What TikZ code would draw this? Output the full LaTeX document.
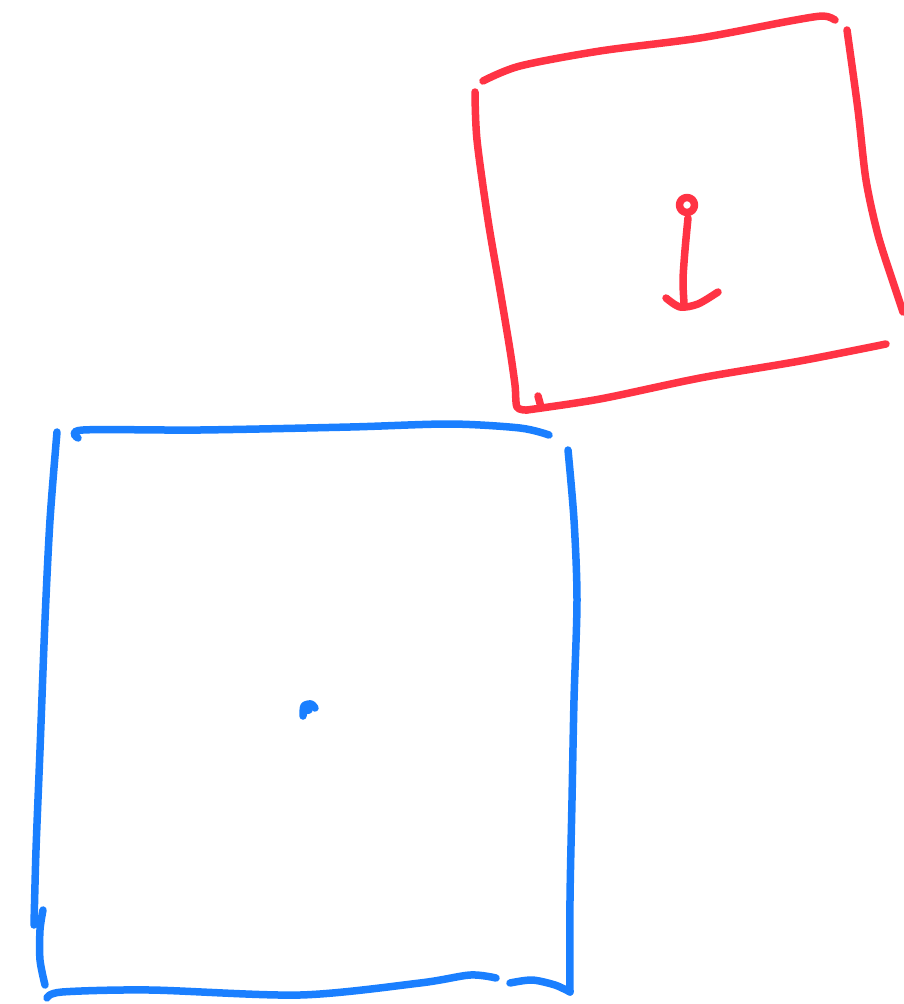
\documentclass[tikz,border=0pt]{standalone}
\usepackage{tikz}
\usetikzlibrary{calc}
\definecolor{sketchred}{RGB}{255,51,68}
\definecolor{sketchblue}{RGB}{26,127,255}
\tikzset{
	pen/.style = {line width=7.5pt, line cap=round, line join=round}, % all strokes share the marker width
	redstroke/.style = {pen, draw=sketchred},
	bluestroke/.style = {pen, draw=sketchblue}
}
\begin{document}
\begin{tikzpicture}[x=1pt, y=-1pt]
	\useasboundingbox (0,0) rectangle (903,1004);
	% red square (upper right)
	\draw[redstroke] plot[smooth] coordinates {(483,81) (520,66) (600,51) (700,38) (790,21) (823,16) (835,20)};
	\draw[redstroke] plot[smooth] coordinates {(847,30) (858,110) (866,180) (878,235) (894,285) (903,312)};
	\draw[redstroke] plot[smooth] coordinates {(475,92) (477,140) (488,220) (500,290) (510,350) (515,385) (517,407) (527,410)};
	\draw[redstroke] plot[smooth] coordinates {(527,410) (600,399) (700,378) (800,361) (886,344)};
	\draw[redstroke] (538,396) -- (541,407);
	% anchor-like mark
	\draw[redstroke] (687,205) circle (7.5);
	\draw[redstroke] plot[smooth] coordinates {(688,218) (685,250) (683,280) (684,303)};
	\draw[redstroke] plot[smooth] coordinates {(666,298) (680,307) (698,304) (718,292)};
	% blue square (lower left)
	\draw[bluestroke] plot[smooth] coordinates {(78,438) (83,430) (200,430) (350,427) (450,424) (520,428) (549,435)};
	\draw[bluestroke] plot[smooth] coordinates {(568,450) (574,520) (577,600) (574,700) (572,800) (570,900) (570,992)};
	\draw[bluestroke] plot[smooth] coordinates {(57,432) (50,520) (45,620) (40,750) (36,850) (34,925)};
	\draw[bluestroke] plot[smooth] coordinates {(43,910) (40,930) (40,960) (45,985)};
	\draw[bluestroke] plot[smooth] coordinates {(47,998) (62,992) (150,990) (300,995) (420,983) (470,975) (496,978)};
	\draw[bluestroke] plot[smooth] coordinates {(510,983) (532,980) (555,985) (570,992)};
	% small dot in the middle
	\draw[bluestroke] plot[smooth] coordinates {(303,716) (304,706) (311,704) (315,708)};
	\draw[bluestroke] (304,711) -- (309,710);
\end{tikzpicture}
\end{document}
